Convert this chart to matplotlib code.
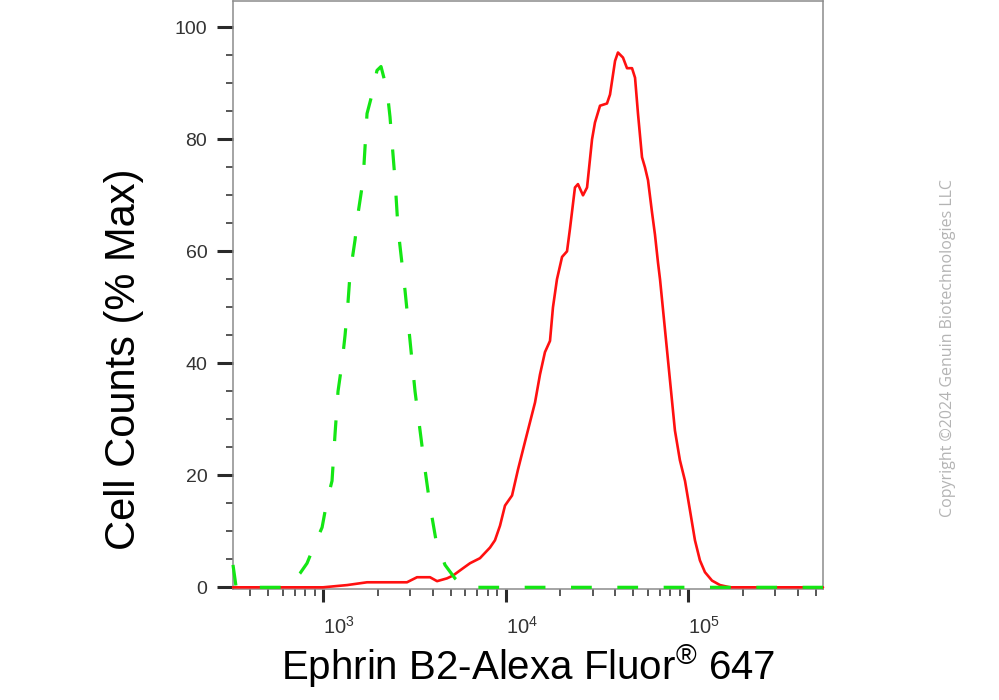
import numpy as np
import matplotlib
matplotlib.use("Agg")
import matplotlib.pyplot as plt
from matplotlib.ticker import FixedLocator, FixedFormatter

# ------------------------------------------------------------------
# data (fluorescence intensity, % of max)
# ------------------------------------------------------------------
isotype_x = [321, 334, 643, 686, 748, 817, 904, 988, 1052, 1120, 1164, 1208,
             1270, 1320, 1371, 1406, 1497, 1556, 1657, 1742, 1855, 1975, 2078,
             2243, 2328, 2481, 2577, 2814, 2998, 3192, 3401, 3622, 3857, 4159,
             4660, 5284, 5992, 549500]
isotype_y = [4.0, 0.0, 0.0, 1.2, 2.5, 4.3, 7.8, 10.7, 15.5, 19.0, 27.5, 35.0,
             40.0, 45.0, 51.0, 56.0, 62.0, 66.8, 72.7, 84.6, 88.0, 92.3, 93.0,
             88.8, 84.0, 72.7, 64.0, 53.0, 44.0, 35.0, 28.0, 21.0, 14.6, 8.4,
             4.0, 1.6, 0.0, 0.0]

ephrin_x = [321, 1000, 1355, 1742, 2884, 3273, 3857, 4216, 4779, 5152, 5846,
            6388, 7244, 8222, 8753, 9328, 9937, 10860, 11700, 12790, 14510,
            15450, 16450, 17530, 18200, 19140, 20410, 21730, 22550, 24020,
            24950, 26590, 27980, 29800, 30920, 32950, 35980, 37390, 39840,
            41330, 44030, 46330, 49360, 51270, 53210, 55980, 58100, 60390,
            63490, 65920, 68490, 70270, 74820, 79660, 84820, 90310, 96330,
            102600, 109200, 116300, 123900, 135400, 149800, 169900, 549500]
ephrin_y = [0.0, 0.0, 0.4, 0.9, 0.9, 1.8, 1.8, 1.1, 1.6, 2.1, 3.4,
            4.3, 5.2, 7.1, 8.4, 11.0, 14.6, 16.4, 21.0, 26.0, 33.0,
            38.0, 42.0, 44.0, 50.0, 55.0, 59.0, 60.0, 64.0, 71.4,
            72.0, 70.0, 71.4, 80.0, 83.0, 86.0, 86.4, 88.0, 94.0,
            95.5, 94.6, 92.7, 92.7, 91.0, 84.6, 76.8, 75.0, 72.7,
            67.0, 63.0, 58.0, 55.0, 46.0, 37.0, 28.0, 22.7, 19.0,
            13.7, 8.4, 4.8, 2.7, 1.2, 0.4, 0.0, 0.0]

x_major = [1e3, 1e4, 1e5]
x_major_labels = [r'$10^{3}$', r'$10^{4}$', r'$10^{5}$']
y_major = [0, 20, 40, 60, 80, 100]

plt.rcParams['font.family'] = ['Liberation Sans', 'DejaVu Sans']
plt.rcParams['mathtext.fontset'] = 'custom'
plt.rcParams['mathtext.rm'] = 'Liberation Sans'
plt.rcParams['mathtext.it'] = 'Liberation Sans'

fig = plt.figure(figsize=(9.99, 7.0), dpi=100)
ax = fig.add_axes([233 / 999, 1 - 589 / 700, 590 / 999, 588 / 700])

ax.plot(ephrin_x, ephrin_y, color='#ff1010', lw=1.9, clip_on=False, zorder=3,
        solid_joinstyle='round', solid_capstyle='round')
ax.plot(isotype_x, isotype_y, color='#14e614', lw=2.3,
        linestyle=(0, (6.5, 8)), clip_on=False, zorder=4)

ax.set_xscale('log')
ax.set_xlim(321, 549500)
ax.set_ylim(-0.3, 104.7)

# ticks
ax.xaxis.set_major_locator(FixedLocator(x_major))
ax.xaxis.set_major_formatter(FixedFormatter(x_major_labels))
minors = [m * 10 ** d for d in range(2, 6) for m in range(2, 10)]
ax.xaxis.set_minor_locator(FixedLocator([v for v in minors if 321 < v < 549500]))
ax.xaxis.set_minor_formatter(FixedFormatter([]))
ax.yaxis.set_major_locator(FixedLocator(y_major))
ax.yaxis.set_minor_locator(FixedLocator([v for v in range(5, 100, 5) if v % 20]))

ax.tick_params(axis='x', which='major', length=9.5, width=2.2, color='#2a2a2a',
               labelsize=14.5, labelcolor='#333333', pad=10)
ax.tick_params(axis='x', which='minor', length=5, width=1.1, color='#2a2a2a')
ax.tick_params(axis='y', which='major', length=11.5, width=2.2, color='#2a2a2a',
               labelsize=14, labelcolor='#333333', pad=7)
ax.tick_params(axis='y', which='minor', length=5, width=1.1, color='#2a2a2a')
for lbl in ax.get_xticklabels():
    lbl.set_horizontalalignment('left')

for sp in ax.spines.values():
    sp.set_color('#8c8c8c')
    sp.set_linewidth(1.1)

ax.set_xlabel(r'Ephrin B2-Alexa Fluor$^{\mathrm{®}}$ 647', fontsize=29, labelpad=3)
ax.set_ylabel('Cell Counts (% Max)', fontsize=30)
ax.yaxis.set_label_coords(-0.151, 0.39)

fig.text(0.949, 0.503, 'Copyright \u00a92024 Genuin Biotechnologies LLC',
         rotation=90, ha='center', va='center', color='#b4b4b4',
         fontsize=11.5, family=['Open Sans', 'DejaVu Sans'])

fig.savefig('out.png', dpi=100)
